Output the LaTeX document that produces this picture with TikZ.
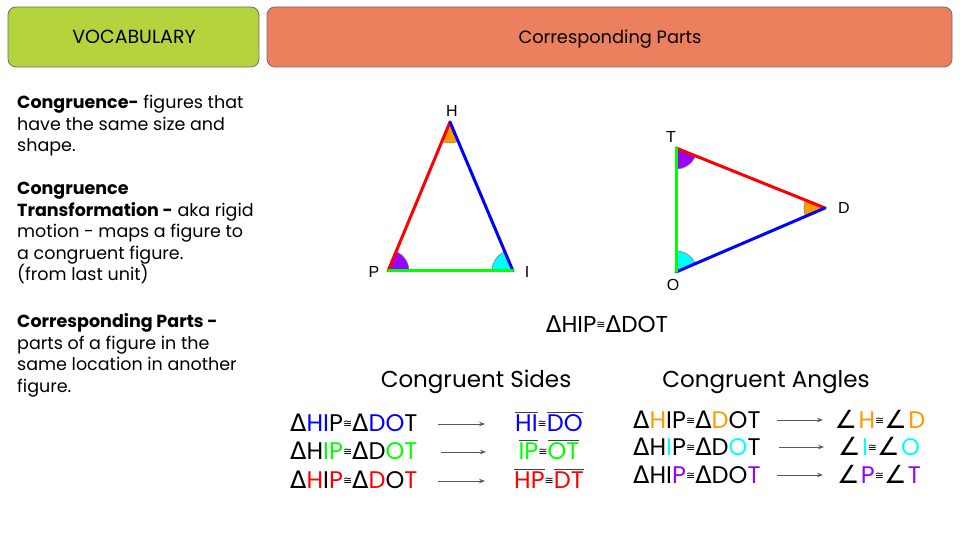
\documentclass[tikz,border=0pt]{standalone}
\usepackage{fontspec}
\setmainfont{Poppins}
\newfontfamily\symf{DejaVu Sans}
\newfontfamily\arialf{Liberation Sans}
\usetikzlibrary{angles,arrows.meta}
\definecolor{vocab}{HTML}{B5D33D}
\definecolor{corr}{HTML}{EC7F5E}
\definecolor{cblue}{HTML}{0000FF}
\definecolor{cred}{HTML}{FF0000}
\definecolor{cgreen}{HTML}{00FF00}
\definecolor{corange}{HTML}{FF9900}
\definecolor{ccyan}{HTML}{00FFFF}
\definecolor{cpurple}{HTML}{9900FF}
\definecolor{edgegray}{HTML}{6E6E6E}
\newcommand{\mytri}{{\symf Δ}}
\newcommand{\mycong}{\raisebox{4.5pt}{\symf\fontsize{11}{11}\selectfont ≅}}
\newcommand{\myang}{{\symf\fontsize{25}{28}\selectfont ∠}\kern1.5pt}
\newcommand{\myol}[1]{\vbox{\color{black!75}\hrule height 0.8pt\kern 2pt\hbox{#1}}}
\tikzset{
  hdr/.style={draw=edgegray, line width=0.8pt, rounded corners=8pt, inner sep=0pt},
  deftxt/.style={anchor=base west, inner sep=0pt, font=\fontsize{17.5}{20}\selectfont},
  vlab/.style={font=\arialf\fontsize{16}{18}\selectfont, inner sep=0pt},
  side/.style={line width=3pt, line cap=round},
  ang/.style={draw=gray, line width=0.6pt, angle radius=21pt},
  rowtxt/.style={anchor=base west, inner sep=0pt, font=\fontsize{24}{28}\selectfont},
  restxt/.style={anchor=base, inner sep=0pt, font=\fontsize{24}{28}\selectfont},
  ttltxt/.style={anchor=base, inner sep=0pt, font=\fontsize{23}{26}\selectfont},
  arr/.style={draw=black!65, line width=0.8pt, -{Stealth[length=6pt,width=4.5pt]}},
}
\begin{document}
\begin{tikzpicture}[x=1pt,y=1pt]
\useasboundingbox (0,0) rectangle (960,540);
% headers
\node[hdr, fill=vocab, minimum width=251pt, minimum height=60pt] (voc) at (133.5,503) {};
\node[hdr, fill=corr, minimum width=685pt, minimum height=60pt] (cp) at (609.5,503) {};
\node[anchor=base, inner sep=0pt, font=\fontsize{19}{22}\selectfont] (voct) at (134,496) {VOCABULARY};
\node[anchor=base, inner sep=0pt, font=\fontsize{17.8}{22}\selectfont] (cpt) at (610,496) {Corresponding Parts};
% definitions
\node[deftxt] (d1) at (17,431) {\textbf{Congruence-} figures that};
\node[deftxt] (d2) at (17,409.5) {have the same size and};
\node[deftxt] (d3) at (17,388) {shape.};
\node[deftxt] (d4) at (17,345) {\textbf{Congruence}};
\node[deftxt] (d5) at (17,323.5) {\textbf{Transformation -} aka rigid};
\node[deftxt] (d6) at (17,302) {motion - maps a figure to};
\node[deftxt] (d7) at (17,280.5) {a congruent figure.};
\node[deftxt] (d8) at (17,259) {(from last unit)};
\node[deftxt] (d9) at (17,212) {\textbf{Corresponding Parts -}};
\node[deftxt] (d10) at (17,190.5) {parts of a figure in the};
\node[deftxt] (d11) at (17,169) {same location in another};
\node[deftxt] (d12) at (17,147.5) {figure.};
% triangle HIP
\coordinate (H) at (450,418);
\coordinate (P) at (388,269);
\coordinate (I) at (513,269);
\pic[ang, fill=corange] {angle=P--H--I};
\pic[ang, fill=cpurple] {angle=I--P--H};
\pic[ang, fill=ccyan] {angle=H--I--P};
\draw[side, cred] (P) -- (H);
\draw[side, cblue] (H) -- (I);
\draw[side, cgreen] (P) -- (I);
\node[vlab] (lH) at (452,429) {H};
\node[vlab] (lP) at (374,268) {P};
\node[vlab] (lI) at (527,268) {I};
% triangle DOT
\coordinate (T) at (676,392);
\coordinate (D) at (825,332);
\coordinate (O) at (676,268);
\pic[ang, fill=cpurple] {angle=O--T--D};
\pic[ang, fill=corange] {angle=T--D--O};
\pic[ang, fill=ccyan] {angle=D--O--T};
\draw[side, cred] (T) -- (D);
\draw[side, cblue] (D) -- (O);
\draw[side, cgreen] (O) -- (T);
\node[vlab] (lT) at (671,403) {T};
\node[vlab] (lD) at (844,332) {D};
\node[vlab] (lO) at (673,255) {O};
% statement
\node[ttltxt] (stmt) at (607,207) {\mytri HIP\mycong\mytri DOT};
\node[ttltxt] (cs) at (476,152) {Congruent Sides};
\node[ttltxt] (ca) at (766,152) {Congruent Angles};
% sides rows
\node[rowtxt] (s1) at (290,108) {\mytri{\color{cblue}HI}P\mycong\mytri{\color{cblue}DO}T};
\node[rowtxt] (s2) at (290,80) {\mytri H{\color{cgreen}IP}\mycong\mytri D{\color{cgreen}OT}};
\node[rowtxt] (s3) at (290,51) {\mytri{\color{cred}H}I{\color{cred}P}\mycong\mytri{\color{cred}D}O{\color{cred}T}};
\coordinate (a1s) at (438,116); \coordinate (a1e) at (485,116);
\coordinate (a2s) at (441,88); \coordinate (a2e) at (486,88);
\coordinate (a3s) at (438,59); \coordinate (a3e) at (485,59);
\draw[arr] (a1s) -- (a1e);
\draw[arr] (a2s) -- (a2e);
\draw[arr] (a3s) -- (a3e);
\node[restxt] (r1) at (549,108) {\myol{\color{cblue}HI}\mycong\myol{\color{cblue}DO}};
\node[restxt] (r2) at (549,80) {\myol{\color{cgreen}IP}\mycong\myol{\color{cgreen}OT}};
\node[restxt] (r3) at (549,51) {\myol{\color{cred}HP}\mycong\myol{\color{cred}DT}};
% angle rows
\node[rowtxt] (g1) at (633,111) {\mytri{\color{corange}H}IP\mycong\mytri{\color{corange}D}OT};
\node[rowtxt] (g2) at (633,84) {\mytri H{\color{ccyan}I}P\mycong\mytri D{\color{ccyan}O}T};
\node[rowtxt] (g3) at (633,56) {\mytri HI{\color{cpurple}P}\mycong\mytri DO{\color{cpurple}T}};
\coordinate (b1s) at (777,120); \coordinate (b1e) at (823,120);
\coordinate (b2s) at (779,93); \coordinate (b2e) at (824,93);
\coordinate (b3s) at (777,65); \coordinate (b3e) at (823,65);
\draw[arr] (b1s) -- (b1e);
\draw[arr] (b2s) -- (b2e);
\draw[arr] (b3s) -- (b3e);
\node[restxt] (q1) at (880,111) {\myang{\color{corange}H}\mycong\myang{\color{corange}D}};
\node[restxt] (q2) at (879,84) {\myang{\color{ccyan}I}\mycong\myang{\color{ccyan}O}};
\node[restxt] (q3) at (879,56) {\myang{\color{cpurple}P}\mycong\myang{\color{cpurple}T}};
\end{tikzpicture}
\end{document}
